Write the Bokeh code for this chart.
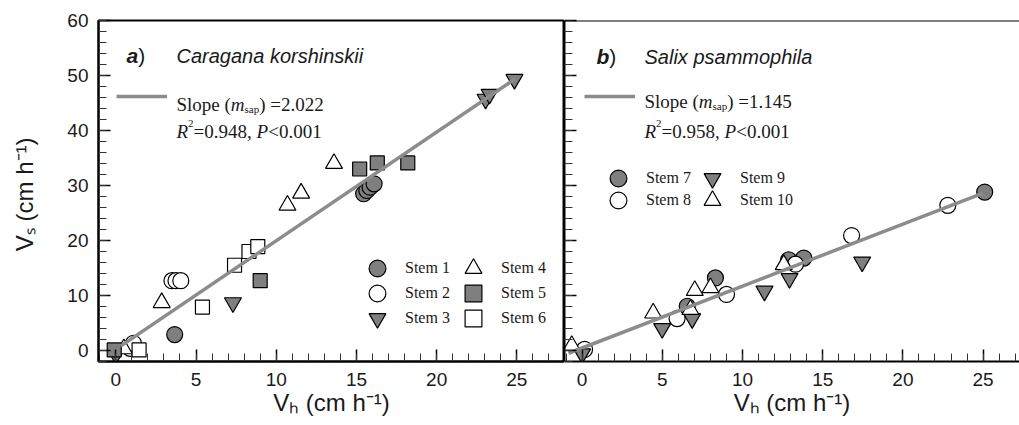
import math
from bokeh.plotting import figure
from bokeh.models import (Range1d, SingleIntervalTicker, Label, Legend, LegendItem, Span,
                          CustomJSTickFormatter)
from bokeh.layouts import row
from bokeh.embed import file_html
from bokeh.resources import INLINE

# ---------------- data: panel a (Caragana korshinskii) ----------------
a_stem1_x = [3.67, 15.45, 15.65, 15.85, 16.10]
a_stem1_y = [2.9, 28.5, 29.1, 29.7, 30.3]
a_stem2_x = [0.90, 1.10, 3.50, 3.75, 4.05]
a_stem2_y = [0.4, 1.3, 12.7, 12.7, 12.7]
a_stem3_x = [0.00, 7.30, 23.05, 23.30, 24.85]
a_stem3_y = [-0.7, 8.7, 45.7, 46.6, 49.3]
a_stem4_x = [0.50, 2.86, 10.70, 11.55, 13.60]
a_stem4_y = [0.3, 8.7, 26.4, 28.6, 34.0]
a_stem5_x = [-0.10, 9.00, 15.20, 16.30, 18.20]
a_stem5_y = [0.1, 12.7, 33.0, 34.1, 34.1]
a_stem6_x = [1.45, 5.40, 7.40, 8.30, 8.85]
a_stem6_y = [0.1, 7.9, 15.5, 18.0, 18.9]
a_fit_x = [0.30, 24.90]
a_fit_y = [0.80, 49.40]

# ---------------- data: panel b (Salix psammophila) ----------------
b_stem7_x = [6.55, 8.31, 12.88, 13.82, 25.10]
b_stem7_y = [8.05, 13.2, 16.5, 16.8, 28.8]
b_stem8_x = [0.15, 5.92, 9.00, 13.30, 16.80, 22.80]
b_stem8_y = [0.2, 5.8, 10.2, 15.7, 20.9, 26.4]
b_stem9_x = [0.00, 4.99, 6.86, 11.37, 12.93, 17.46]
b_stem9_y = [-0.6, 4.0, 5.8, 10.8, 13.1, 16.1]
b_stem10_x = [-0.65, 4.43, 6.75, 7.02, 8.00, 12.57]
b_stem10_y = [0.9, 6.8, 7.45, 10.9, 11.4, 15.6]
b_fit_x = [-0.85, 25.00]
b_fit_y = [-0.50, 28.60]

a_labels = ["Stem 1", "Stem 2", "Stem 3", "Stem 4", "Stem 5", "Stem 6"]
b_labels = ["Stem 7", "Stem 8", "Stem 9", "Stem 10"]
a_species = "Caragana korshinskii"
b_species = "Salix psammophila"
a_slope = "2.022"
a_r2 = "0.948"
b_slope = "1.145"
b_r2 = "0.958"
x_title = "V\u2095 (cm h\u207b\u00b9)"
y_title = "V\u209b  (cm h\u207b\u00b9)"

GRAY = "#7f7f7f"
LINE = "#8c8c8c"
TXT = "#1a1a1a"
SANS = "Liberation Sans"
SERIF = "Liberation Serif"

H = 425
WA = 564
WB = 455
FRAME_TOP = 20
FRAME_BOT = 64

# character widths (em) for width estimation of rich text pieces
W_SERIF = {' ': .25, '(': .333, ')': .333, '=': .564, '<': .564, '.': .25, ',': .25,
           'S': .556, 'l': .278, 'o': .5, 'p': .5, 'e': .444, 's': .389, 'a': .444,
           'm': .778, 'R': .667, 'P': .556}
W_SERIF_I = {'m': .722, 'R': .611, 'P': .611}
W_SANS = {' ': .278, '(': .333, ')': .333, 'a': .556, 'b': .611}


def tw(s, size, font, style):
    tab = W_SANS if font == SANS else W_SERIF
    if font == SERIF and 'italic' in style:
        tab = dict(W_SERIF, **W_SERIF_I)
    return sum(tab.get(ch, .5) for ch in s) * size


def rich(p, x0, y0, pieces):
    """pieces: (text, font, size, style, baseline_shift_px); x0,y0 offsets from frame top-left"""
    pos = 0.0
    for text, font, size, style, shift in pieces:
        p.add_layout(Label(x=p.x_range.start, y=p.y_range.end, x_offset=x0 + pos,
                           y_offset=y0 + shift, text=text,
                           text_font=font, text_font_size=f"{size}px", text_font_style=style,
                           text_color=TXT, text_align="left", text_baseline="alphabetic"))
        pos += tw(text, size, font, style)


def base_fig(width, xr, left_border):
    p = figure(width=width, height=H, x_range=Range1d(*xr), y_range=Range1d(-2, 60),
               output_backend="svg", toolbar_location=None,
               min_border_left=left_border, min_border_right=0,
               min_border_top=FRAME_TOP, min_border_bottom=FRAME_BOT)
    p.grid.visible = False
    p.background_fill_color = "white"
    p.border_fill_color = "white"
    for ax in p.xaxis:
        ax.ticker = SingleIntervalTicker(interval=5, num_minor_ticks=5)
    for ax in p.yaxis:
        ax.ticker = SingleIntervalTicker(interval=10, num_minor_ticks=5)
    for ax in list(p.xaxis) + list(p.yaxis):
        ax.major_tick_in = 12
        ax.major_tick_out = 0
        ax.minor_tick_in = 8
        ax.minor_tick_out = 0
        ax.axis_line_width = 2
        ax.axis_line_color = "black"
        ax.major_tick_line_width = 1.5
        ax.minor_tick_line_width = 1
        ax.major_tick_line_color = "black"
        ax.minor_tick_line_color = "#333333"
        ax.major_label_text_font = SANS
        ax.major_label_text_font_size = "19px"
        ax.major_label_text_color = TXT
        ax.axis_label_text_font = SANS
        ax.axis_label_text_font_size = "24px"
        ax.axis_label_text_font_style = "normal"
        ax.axis_label_text_color = TXT
    p.xaxis.major_label_standoff = 11
    p.xaxis.axis_label_standoff = 0
    p.xaxis.axis_label = x_title
    p.yaxis.major_label_standoff = 10
    return p


def stems(p, series):
    rs = []
    for (x, y, marker, fill, size) in series:
        rs.append(p.scatter(x, y, marker=marker, size=size, fill_color=fill,
                            line_color="black", line_width=1.2))
    return rs


def legend_entry(p, label, rend, loc):
    lg = Legend(items=[LegendItem(label=label, renderers=[rend])],
                location=loc, orientation="vertical", glyph_width=42, glyph_height=42,
                padding=0, margin=0, label_standoff=7,
                label_text_font=SERIF, label_text_font_size="16px", label_text_color=TXT,
                border_line_color=None, background_fill_alpha=0, label_height=20)
    p.add_layout(lg)


def fit_legend(p, rend, loc):
    lg = Legend(items=[LegendItem(label=" ", renderers=[rend])], location=loc,
                glyph_width=51, glyph_height=20, padding=0, margin=0, label_standoff=0,
                border_line_color=None, background_fill_alpha=0, label_width=1,
                label_text_font_size="10px")
    p.add_layout(lg)


def annotations(p, lab, species, slope, r2, lx, sx, ty, sly, rly):
    rich(p, lx, -ty, [(lab, SANS, 21, "bold italic", 0), (")", SANS, 21, "normal", 0)])
    rich(p, sx, -ty, [(species, SANS, 20, "italic", 0)])
    rich(p, sx, -sly, [("Slope (", SERIF, 19, "normal", 0), ("m", SERIF, 19, "italic", 0),
                       ("sap", SERIF, 11, "normal", -4), (") =" + slope, SERIF, 19, "normal", 0)])
    rich(p, sx, -rly, [("R", SERIF, 19, "italic", 0), ("2", SERIF, 11, "normal", 8),
                       ("=" + r2 + ", ", SERIF, 19, "normal", 0), ("P", SERIF, 19, "italic", 0),
                       ("<0.001", SERIF, 19, "normal", 0)])


# ---------------- panel a ----------------
pa = base_fig(WA, (-1.08, 27.97), 98)
pa.outline_line_color = "black"
pa.outline_line_width = 2
pa.yaxis.axis_label = y_title
pa.yaxis.axis_label_standoff = 26
ra = stems(pa, [(a_stem1_x, a_stem1_y, "circle", GRAY, 16),
                (a_stem2_x, a_stem2_y, "circle", "white", 16),
                (a_stem3_x, a_stem3_y, "inverted_triangle", GRAY, 17),
                (a_stem4_x, a_stem4_y, "triangle", "white", 17),
                (a_stem5_x, a_stem5_y, "square", GRAY, 14),
                (a_stem6_x, a_stem6_y, "square", "white", 14)])
fa = pa.line(a_fit_x, a_fit_y, line_color=LINE, line_width=3.5)
for i in range(6):
    col, rw = divmod(i, 3)
    legend_entry(pa, a_labels[i], ra[i], (258 + 96 * col, 72 - 25 * rw))
fit_legend(pa, fa, (18, 255))
annotations(pa, "a", a_species, a_slope, a_r2, 28, 78, 35, 84, 111)

# ---------------- panel b ----------------
pb = base_fig(WB, (-1.10, 27.27), 0)
pb.outline_line_color = None
pb.yaxis.formatter = CustomJSTickFormatter(code="return ''")
pb.yaxis.major_label_standoff = 0
pb.add_layout(Span(location=60, dimension="width", line_color="black", line_width=2))
rb = stems(pb, [(b_stem7_x, b_stem7_y, "circle", GRAY, 16),
                (b_stem8_x, b_stem8_y, "circle", "white", 16),
                (b_stem9_x, b_stem9_y, "inverted_triangle", GRAY, 17),
                (b_stem10_x, b_stem10_y, "triangle", "white", 17)])
fb = pb.line(b_fit_x, b_fit_y, line_color=LINE, line_width=3.5)
for i in range(4):
    col, rw = divmod(i, 2)
    legend_entry(pb, b_labels[i], rb[i], (33 + 94 * col, 162 - 22 * rw))
fit_legend(pb, fb, (20, 255))
annotations(pb, "b", b_species, b_slope, b_r2, 32, 80, 36, 81, 111)

layout = row(pa, pb, spacing=0)
open("out.html", "w").write(file_html(layout, INLINE))
